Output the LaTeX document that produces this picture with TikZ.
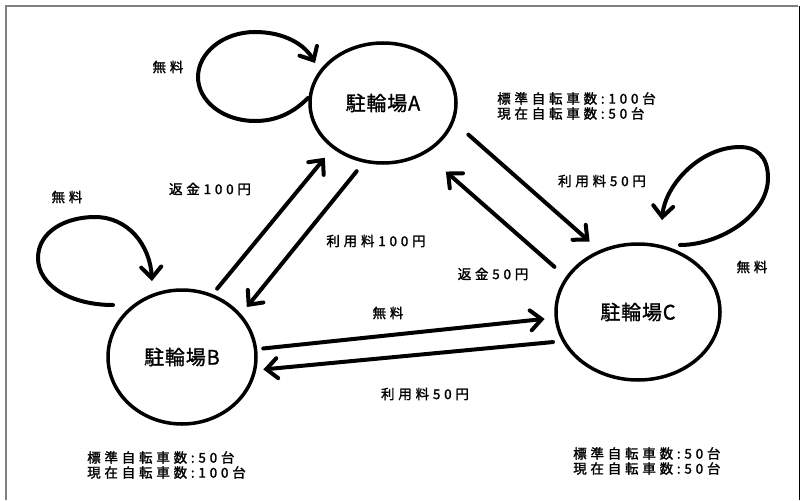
\documentclass[tikz,border=0pt]{standalone}
\usepackage{fontspec}
\setmainfont{Noto Sans CJK JP}
\newfontfamily\jpsmall[LetterSpace=28,FakeBold=1.6]{Noto Sans CJK JP}
\newfontfamily\jpbig[LetterSpace=4,FakeBold=1.2]{Noto Sans CJK JP}
\usetikzlibrary{arrows.meta,shapes.geometric}
\begin{document}
\begin{tikzpicture}[x=1pt,y=-1pt,
  station/.style={ellipse, draw, line width=3.5pt, inner sep=0pt,
    font=\jpbig\fontsize{20}{24}\selectfont},
  arr/.style={line width=4pt, line cap=round,
    -{Straight Barb[length=11pt,width=20pt,line cap=round]}},
  lbl/.style={font=\jpsmall\fontsize{13.5}{15}\selectfont, inner sep=0pt},
  info/.style={lbl, align=left, anchor=west}]
\useasboundingbox (0,0) rectangle (802,500);
\fill[white] (0,0) rectangle (802,500);
\draw[gray, line width=2pt] (6,500) -- (6,6) -- (798,6);
\draw[black, line width=1pt] (799,6) -- (799,500);

% stations
\node[station, minimum width=146pt, minimum height=120pt] (A) at (383,103) {駐輪場A};
\node[station, minimum width=148pt, minimum height=134pt] (B) at (182,357) {駐輪場B};
\node[station, minimum width=164pt, minimum height=136pt] (C) at (638,312) {駐輪場C};

% connectors between stations
\draw[arr, shorten <=19pt, shorten >=13pt] (A.-15) -- (C.122);
\draw[arr, shorten <=15pt, shorten >=27pt] (C.154) -- (A.-50);
\draw[arr, shorten <=7pt, shorten >=12pt] (B.64) -- (A.222);
\draw[arr, shorten <=11pt, shorten >=9pt] (A.-108) -- (B.36);
\draw[arr, shorten <=6pt, shorten >=10pt] (B.6) -- (C.184);
\draw[arr, shorten <=9pt, shorten >=7pt] (C.201) -- (B.-10);

% self loops
\coordinate (sa) at (308,98);
\coordinate (ta) at (315,63);
\draw[arr] (sa) .. controls (292,114) and (275,121) .. (255,121)
  .. controls (223,121) and (198,101) .. (198,77)
  .. controls (198,53) and (223,32) .. (255,32)
  .. controls (285,32) and (305,45) .. (ta);
\coordinate (sb) at (113,305);
\coordinate (tb) at (152,281);
\draw[arr] (sb) .. controls (70,305) and (38,285) .. (38,258)
  .. controls (38,232) and (65,217) .. (95,217)
  .. controls (128,217) and (150,245) .. (tb);
\coordinate (sc) at (680,245);
\coordinate (tc) at (662,220);
\draw[arr] (sc) .. controls (720,245) and (768,215) .. (768,178)
  .. controls (768,155) and (755,147) .. (740,147)
  .. controls (700,147) and (665,185) .. (tc);

% labels
\node[lbl] (la) at (168,67) {無料};
\node[lbl] (lb) at (67,197) {無料};
\node[lbl] (lc) at (752,267) {無料};
\node[lbl] (lba) at (210,189) {返金100円};
\node[lbl] (lab) at (376,241) {利用料100円};
\node[lbl] (lac) at (602,181) {利用料50円};
\node[lbl] (lca) at (493,274) {返金50円};
\node[lbl] (lbc) at (388,313) {無料};
\node[lbl] (lcb) at (425,394) {利用料50円};

% info texts
\node[info] (ia) at (497,106) {標準自転車数:100台\\現在自転車数:50台};
\node[info] (ib) at (87,465) {標準自転車数:50台\\現在自転車数:100台};
\node[info] (ic) at (573,461) {標準自転車数:50台\\現在自転車数:50台};
\end{tikzpicture}
\end{document}
